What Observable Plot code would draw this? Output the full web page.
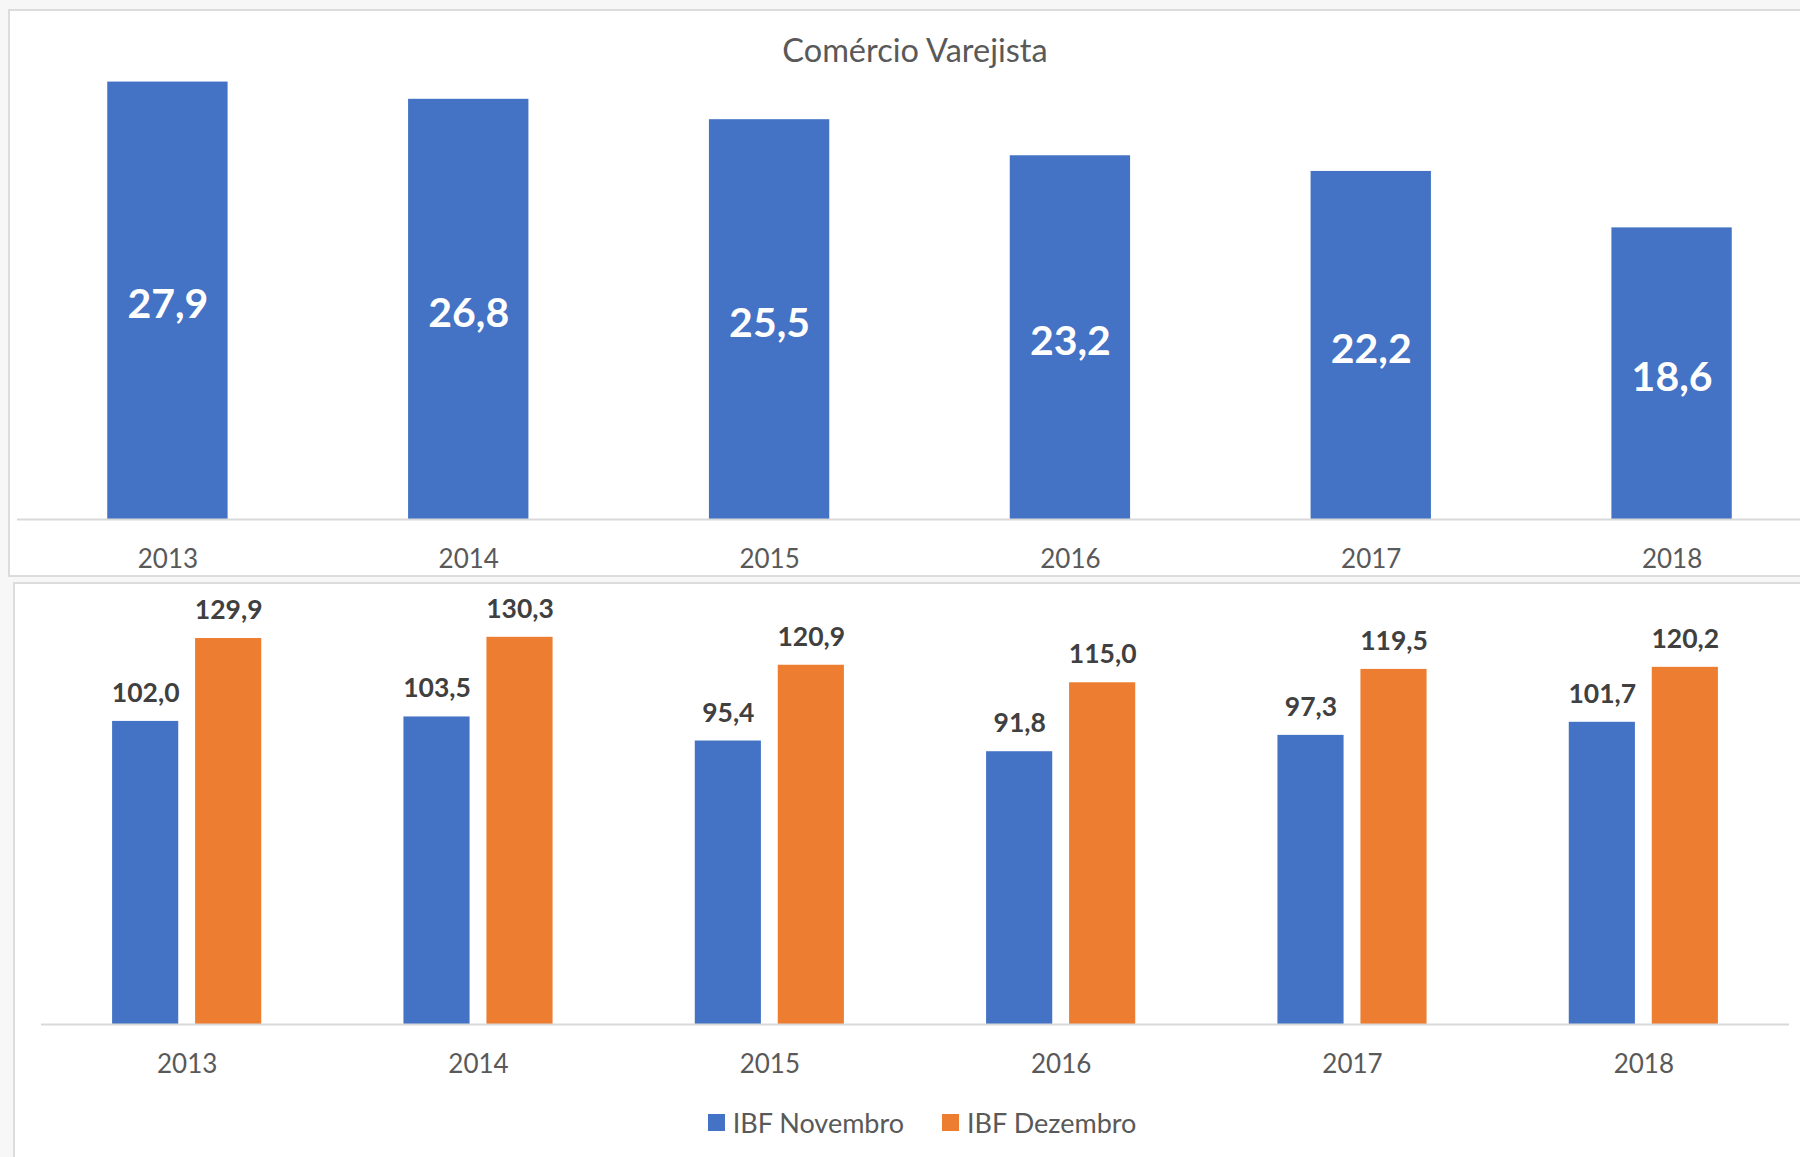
<!DOCTYPE html>
<html>
<head>
<meta charset="utf-8">
<script src="https://cdn.jsdelivr.net/npm/d3@7"></script>
<script src="https://cdn.jsdelivr.net/npm/@observablehq/plot@0.6"></script>
<style>
  html, body { margin: 0; padding: 0; width: 1800px; height: 1157px; overflow: hidden; background: #f7f7f7; font-family: Lato, "Open Sans", sans-serif; }
  #page { position: relative; width: 1800px; height: 1157px; }
  .panel { position: absolute; background: #ffffff; border: 2px solid #dcdcdc; box-sizing: border-box; }
  #p1 { left: 8px; top: 9px; width: 1830px; height: 568px; }
  #p2 { left: 13px; top: 582px; width: 1830px; height: 600px; }
  #title { position: absolute; left: 8px; width: 1814px; top: 30px; text-align: center; font-size: 32.5px; color: #595959; line-height: 40px; }
  #top { position: absolute; left: 0; top: 70px; width: 1822px; }
  #bottom { position: absolute; left: 0; top: 582px; width: 1800px; }
  #legend { position: absolute; left: 0; width: 1844px; top: 1090px; height: 64px; display: flex; justify-content: center; align-items: center; gap: 38px; font-size: 27px; color: #595959; }
  .item { display: flex; align-items: center; gap: 8px; }
  .sw { width: 17px; height: 17px; display: inline-block; }
  svg { overflow: visible; max-width: none !important; }
</style>
</head>
<body>
<div id="page">
  <div class="panel" id="p1"></div>
  <div class="panel" id="p2"></div>
  <div id="title">Comércio Varejista</div>
  <div id="top"></div>
  <div id="bottom"></div>
  <div id="legend"></div>
</div>
<script>
const years = ["2013", "2014", "2015", "2016", "2017", "2018"];
const varejoValues = [27.9, 26.8, 25.5, 23.2, 22.2, 18.6];
const ibfNovembro = [102.0, 103.5, 95.4, 91.8, 97.3, 101.7];
const ibfDezembro = [129.9, 130.3, 120.9, 115.0, 119.5, 120.2];
const seriesNames = ["IBF Novembro", "IBF Dezembro"];
const seriesColors = ["#4472C4", "#ED7D31"];

const locale = d3.formatLocale({decimal: ",", thousands: ".", grouping: [3], currency: ["", ""]});
const fmt = locale.format(".1f");

const topData = years.map((y, i) => ({year: y, value: varejoValues[i]}));
const novData = years.map((y, i) => ({year: y, value: ibfNovembro[i]}));
const dezData = years.map((y, i) => ({year: y, value: ibfDezembro[i]}));

const topPlot = Plot.plot({
  width: 1822, height: 507,
  marginLeft: 17, marginRight: 0, marginTop: 10, marginBottom: 58,
  x: {domain: years, paddingInner: 0.6, paddingOuter: 0.3, round: false},
  y: {domain: [0, 28], axis: null},
  style: {fontFamily: "Lato, 'Open Sans', sans-serif", background: "transparent", overflow: "visible", maxWidth: "none"},
  marks: [
    Plot.barY(topData, {x: "year", y: "value", fill: seriesColors[0]}),
    Plot.ruleY([0], {stroke: "#d9d9d9", strokeWidth: 2}),
    Plot.text(topData, {x: "year", y: d => d.value / 2, dy: 4, text: d => fmt(d.value), fill: "white", fontWeight: "bold", fontSize: 41, lineAnchor: "middle"}),
    Plot.axisX({tickSize: 0, tickPadding: 30, fontSize: 26, color: "#595959", label: null})
  ]
});
document.getElementById("top").appendChild(topPlot);

const off = 41.5;
const bottomPlot = Plot.plot({
  width: 1800, height: 508,
  marginLeft: 41, marginRight: 11, marginTop: 26, marginBottom: 66,
  x: {domain: years, paddingInner: 0.773, paddingOuter: 0.3865, round: false},
  y: {domain: [0, 140], axis: null},
  style: {fontFamily: "Lato, 'Open Sans', sans-serif", background: "transparent", overflow: "visible", maxWidth: "none"},
  marks: [
    Plot.barY(novData, {x: "year", y: "value", fill: seriesColors[0], dx: -off}),
    Plot.barY(dezData, {x: "year", y: "value", fill: seriesColors[1], dx: off}),
    Plot.ruleY([0], {stroke: "#d9d9d9", strokeWidth: 2}),
    Plot.text(novData, {x: "year", y: "value", dx: -off, dy: -28, text: d => fmt(d.value), fill: "#404040", fontWeight: "bold", fontSize: 26.5, lineAnchor: "middle"}),
    Plot.text(dezData, {x: "year", y: "value", dx: off, dy: -28, text: d => fmt(d.value), fill: "#404040", fontWeight: "bold", fontSize: 26.5, lineAnchor: "middle"}),
    Plot.axisX({tickSize: 0, tickPadding: 30, fontSize: 26, color: "#595959", label: null})
  ]
});
document.getElementById("bottom").appendChild(bottomPlot);

const legend = document.getElementById("legend");
seriesNames.forEach((name, i) => {
  const item = document.createElement("div");
  item.className = "item";
  const sw = document.createElement("span");
  sw.className = "sw";
  sw.style.background = seriesColors[i];
  const label = document.createElement("span");
  label.textContent = name;
  item.appendChild(sw);
  item.appendChild(label);
  legend.appendChild(item);
});
</script>
</body>
</html>
